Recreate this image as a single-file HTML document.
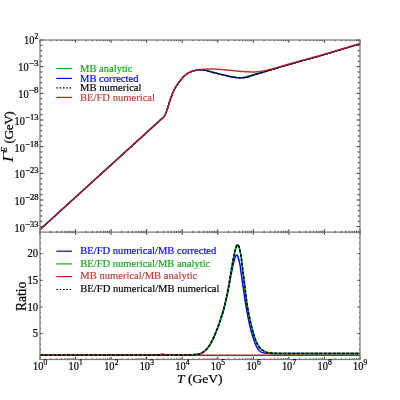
<!DOCTYPE html>
<html><head><meta charset="utf-8"><title>chart</title><style>html,body{margin:0;padding:0;background:#fff;width:400px;height:400px;overflow:hidden;font-family:"Liberation Serif",serif}</style></head><body>
<div style="position:absolute;left:0;top:0;width:400px;height:400px;will-change:transform">
<svg width="400" height="400" viewBox="0 0 400 400" style="position:absolute;left:0;top:0">
<rect width="400" height="400" fill="#fff"/>
<path d="M40.00,40.00 v2.70 M40.00,232.00 v-2.70 M40.00,232.00 v2.70 M40.00,359.50 v-2.70 M50.70,40.00 v1.20 M50.70,232.00 v-1.20 M50.70,232.00 v1.20 M50.70,359.50 v-1.20 M56.96,40.00 v1.20 M56.96,232.00 v-1.20 M56.96,232.00 v1.20 M56.96,359.50 v-1.20 M61.41,40.00 v1.20 M61.41,232.00 v-1.20 M61.41,232.00 v1.20 M61.41,359.50 v-1.20 M64.85,40.00 v1.20 M64.85,232.00 v-1.20 M64.85,232.00 v1.20 M64.85,359.50 v-1.20 M67.67,40.00 v1.20 M67.67,232.00 v-1.20 M67.67,232.00 v1.20 M67.67,359.50 v-1.20 M70.05,40.00 v1.20 M70.05,232.00 v-1.20 M70.05,232.00 v1.20 M70.05,359.50 v-1.20 M72.11,40.00 v1.20 M72.11,232.00 v-1.20 M72.11,232.00 v1.20 M72.11,359.50 v-1.20 M73.93,40.00 v1.20 M73.93,232.00 v-1.20 M73.93,232.00 v1.20 M73.93,359.50 v-1.20 M75.56,40.00 v2.70 M75.56,232.00 v-2.70 M75.56,232.00 v2.70 M75.56,359.50 v-2.70 M86.26,40.00 v1.20 M86.26,232.00 v-1.20 M86.26,232.00 v1.20 M86.26,359.50 v-1.20 M92.52,40.00 v1.20 M92.52,232.00 v-1.20 M92.52,232.00 v1.20 M92.52,359.50 v-1.20 M96.96,40.00 v1.20 M96.96,232.00 v-1.20 M96.96,232.00 v1.20 M96.96,359.50 v-1.20 M100.41,40.00 v1.20 M100.41,232.00 v-1.20 M100.41,232.00 v1.20 M100.41,359.50 v-1.20 M103.22,40.00 v1.20 M103.22,232.00 v-1.20 M103.22,232.00 v1.20 M103.22,359.50 v-1.20 M105.60,40.00 v1.20 M105.60,232.00 v-1.20 M105.60,232.00 v1.20 M105.60,359.50 v-1.20 M107.67,40.00 v1.20 M107.67,232.00 v-1.20 M107.67,232.00 v1.20 M107.67,359.50 v-1.20 M109.48,40.00 v1.20 M109.48,232.00 v-1.20 M109.48,232.00 v1.20 M109.48,359.50 v-1.20 M111.11,40.00 v2.70 M111.11,232.00 v-2.70 M111.11,232.00 v2.70 M111.11,359.50 v-2.70 M121.81,40.00 v1.20 M121.81,232.00 v-1.20 M121.81,232.00 v1.20 M121.81,359.50 v-1.20 M128.08,40.00 v1.20 M128.08,232.00 v-1.20 M128.08,232.00 v1.20 M128.08,359.50 v-1.20 M132.52,40.00 v1.20 M132.52,232.00 v-1.20 M132.52,232.00 v1.20 M132.52,359.50 v-1.20 M135.96,40.00 v1.20 M135.96,232.00 v-1.20 M135.96,232.00 v1.20 M135.96,359.50 v-1.20 M138.78,40.00 v1.20 M138.78,232.00 v-1.20 M138.78,232.00 v1.20 M138.78,359.50 v-1.20 M141.16,40.00 v1.20 M141.16,232.00 v-1.20 M141.16,232.00 v1.20 M141.16,359.50 v-1.20 M143.22,40.00 v1.20 M143.22,232.00 v-1.20 M143.22,232.00 v1.20 M143.22,359.50 v-1.20 M145.04,40.00 v1.20 M145.04,232.00 v-1.20 M145.04,232.00 v1.20 M145.04,359.50 v-1.20 M146.67,40.00 v2.70 M146.67,232.00 v-2.70 M146.67,232.00 v2.70 M146.67,359.50 v-2.70 M157.37,40.00 v1.20 M157.37,232.00 v-1.20 M157.37,232.00 v1.20 M157.37,359.50 v-1.20 M163.63,40.00 v1.20 M163.63,232.00 v-1.20 M163.63,232.00 v1.20 M163.63,359.50 v-1.20 M168.07,40.00 v1.20 M168.07,232.00 v-1.20 M168.07,232.00 v1.20 M168.07,359.50 v-1.20 M171.52,40.00 v1.20 M171.52,232.00 v-1.20 M171.52,232.00 v1.20 M171.52,359.50 v-1.20 M174.33,40.00 v1.20 M174.33,232.00 v-1.20 M174.33,232.00 v1.20 M174.33,359.50 v-1.20 M176.71,40.00 v1.20 M176.71,232.00 v-1.20 M176.71,232.00 v1.20 M176.71,359.50 v-1.20 M178.78,40.00 v1.20 M178.78,232.00 v-1.20 M178.78,232.00 v1.20 M178.78,359.50 v-1.20 M180.60,40.00 v1.20 M180.60,232.00 v-1.20 M180.60,232.00 v1.20 M180.60,359.50 v-1.20 M182.22,40.00 v2.70 M182.22,232.00 v-2.70 M182.22,232.00 v2.70 M182.22,359.50 v-2.70 M192.93,40.00 v1.20 M192.93,232.00 v-1.20 M192.93,232.00 v1.20 M192.93,359.50 v-1.20 M199.19,40.00 v1.20 M199.19,232.00 v-1.20 M199.19,232.00 v1.20 M199.19,359.50 v-1.20 M203.63,40.00 v1.20 M203.63,232.00 v-1.20 M203.63,232.00 v1.20 M203.63,359.50 v-1.20 M207.07,40.00 v1.20 M207.07,232.00 v-1.20 M207.07,232.00 v1.20 M207.07,359.50 v-1.20 M209.89,40.00 v1.20 M209.89,232.00 v-1.20 M209.89,232.00 v1.20 M209.89,359.50 v-1.20 M212.27,40.00 v1.20 M212.27,232.00 v-1.20 M212.27,232.00 v1.20 M212.27,359.50 v-1.20 M214.33,40.00 v1.20 M214.33,232.00 v-1.20 M214.33,232.00 v1.20 M214.33,359.50 v-1.20 M216.15,40.00 v1.20 M216.15,232.00 v-1.20 M216.15,232.00 v1.20 M216.15,359.50 v-1.20 M217.78,40.00 v2.70 M217.78,232.00 v-2.70 M217.78,232.00 v2.70 M217.78,359.50 v-2.70 M228.48,40.00 v1.20 M228.48,232.00 v-1.20 M228.48,232.00 v1.20 M228.48,359.50 v-1.20 M234.74,40.00 v1.20 M234.74,232.00 v-1.20 M234.74,232.00 v1.20 M234.74,359.50 v-1.20 M239.18,40.00 v1.20 M239.18,232.00 v-1.20 M239.18,232.00 v1.20 M239.18,359.50 v-1.20 M242.63,40.00 v1.20 M242.63,232.00 v-1.20 M242.63,232.00 v1.20 M242.63,359.50 v-1.20 M245.45,40.00 v1.20 M245.45,232.00 v-1.20 M245.45,232.00 v1.20 M245.45,359.50 v-1.20 M247.83,40.00 v1.20 M247.83,232.00 v-1.20 M247.83,232.00 v1.20 M247.83,359.50 v-1.20 M249.89,40.00 v1.20 M249.89,232.00 v-1.20 M249.89,232.00 v1.20 M249.89,359.50 v-1.20 M251.71,40.00 v1.20 M251.71,232.00 v-1.20 M251.71,232.00 v1.20 M251.71,359.50 v-1.20 M253.33,40.00 v2.70 M253.33,232.00 v-2.70 M253.33,232.00 v2.70 M253.33,359.50 v-2.70 M264.04,40.00 v1.20 M264.04,232.00 v-1.20 M264.04,232.00 v1.20 M264.04,359.50 v-1.20 M270.30,40.00 v1.20 M270.30,232.00 v-1.20 M270.30,232.00 v1.20 M270.30,359.50 v-1.20 M274.74,40.00 v1.20 M274.74,232.00 v-1.20 M274.74,232.00 v1.20 M274.74,359.50 v-1.20 M278.19,40.00 v1.20 M278.19,232.00 v-1.20 M278.19,232.00 v1.20 M278.19,359.50 v-1.20 M281.00,40.00 v1.20 M281.00,232.00 v-1.20 M281.00,232.00 v1.20 M281.00,359.50 v-1.20 M283.38,40.00 v1.20 M283.38,232.00 v-1.20 M283.38,232.00 v1.20 M283.38,359.50 v-1.20 M285.44,40.00 v1.20 M285.44,232.00 v-1.20 M285.44,232.00 v1.20 M285.44,359.50 v-1.20 M287.26,40.00 v1.20 M287.26,232.00 v-1.20 M287.26,232.00 v1.20 M287.26,359.50 v-1.20 M288.89,40.00 v2.70 M288.89,232.00 v-2.70 M288.89,232.00 v2.70 M288.89,359.50 v-2.70 M299.59,40.00 v1.20 M299.59,232.00 v-1.20 M299.59,232.00 v1.20 M299.59,359.50 v-1.20 M305.85,40.00 v1.20 M305.85,232.00 v-1.20 M305.85,232.00 v1.20 M305.85,359.50 v-1.20 M310.30,40.00 v1.20 M310.30,232.00 v-1.20 M310.30,232.00 v1.20 M310.30,359.50 v-1.20 M313.74,40.00 v1.20 M313.74,232.00 v-1.20 M313.74,232.00 v1.20 M313.74,359.50 v-1.20 M316.56,40.00 v1.20 M316.56,232.00 v-1.20 M316.56,232.00 v1.20 M316.56,359.50 v-1.20 M318.94,40.00 v1.20 M318.94,232.00 v-1.20 M318.94,232.00 v1.20 M318.94,359.50 v-1.20 M321.00,40.00 v1.20 M321.00,232.00 v-1.20 M321.00,232.00 v1.20 M321.00,359.50 v-1.20 M322.82,40.00 v1.20 M322.82,232.00 v-1.20 M322.82,232.00 v1.20 M322.82,359.50 v-1.20 M324.44,40.00 v2.70 M324.44,232.00 v-2.70 M324.44,232.00 v2.70 M324.44,359.50 v-2.70 M335.15,40.00 v1.20 M335.15,232.00 v-1.20 M335.15,232.00 v1.20 M335.15,359.50 v-1.20 M341.41,40.00 v1.20 M341.41,232.00 v-1.20 M341.41,232.00 v1.20 M341.41,359.50 v-1.20 M345.85,40.00 v1.20 M345.85,232.00 v-1.20 M345.85,232.00 v1.20 M345.85,359.50 v-1.20 M349.30,40.00 v1.20 M349.30,232.00 v-1.20 M349.30,232.00 v1.20 M349.30,359.50 v-1.20 M352.11,40.00 v1.20 M352.11,232.00 v-1.20 M352.11,232.00 v1.20 M352.11,359.50 v-1.20 M354.49,40.00 v1.20 M354.49,232.00 v-1.20 M354.49,232.00 v1.20 M354.49,359.50 v-1.20 M356.55,40.00 v1.20 M356.55,232.00 v-1.20 M356.55,232.00 v1.20 M356.55,359.50 v-1.20 M358.37,40.00 v1.20 M358.37,232.00 v-1.20 M358.37,232.00 v1.20 M358.37,359.50 v-1.20 M360.00,40.00 v2.70 M360.00,232.00 v-2.70 M360.00,232.00 v2.70 M360.00,359.50 v-2.70 M40.00,40.00 h3.40 M360.00,40.00 h-3.40 M40.00,45.33 h2.40 M360.00,45.33 h-2.40 M40.00,50.67 h2.40 M360.00,50.67 h-2.40 M40.00,56.00 h2.40 M360.00,56.00 h-2.40 M40.00,61.33 h2.40 M360.00,61.33 h-2.40 M40.00,66.67 h3.40 M360.00,66.67 h-3.40 M40.00,72.00 h2.40 M360.00,72.00 h-2.40 M40.00,77.33 h2.40 M360.00,77.33 h-2.40 M40.00,82.67 h2.40 M360.00,82.67 h-2.40 M40.00,88.00 h2.40 M360.00,88.00 h-2.40 M40.00,93.33 h3.40 M360.00,93.33 h-3.40 M40.00,98.67 h2.40 M360.00,98.67 h-2.40 M40.00,104.00 h2.40 M360.00,104.00 h-2.40 M40.00,109.33 h2.40 M360.00,109.33 h-2.40 M40.00,114.67 h2.40 M360.00,114.67 h-2.40 M40.00,120.00 h3.40 M360.00,120.00 h-3.40 M40.00,125.33 h2.40 M360.00,125.33 h-2.40 M40.00,130.67 h2.40 M360.00,130.67 h-2.40 M40.00,136.00 h2.40 M360.00,136.00 h-2.40 M40.00,141.33 h2.40 M360.00,141.33 h-2.40 M40.00,146.67 h3.40 M360.00,146.67 h-3.40 M40.00,152.00 h2.40 M360.00,152.00 h-2.40 M40.00,157.33 h2.40 M360.00,157.33 h-2.40 M40.00,162.67 h2.40 M360.00,162.67 h-2.40 M40.00,168.00 h2.40 M360.00,168.00 h-2.40 M40.00,173.33 h3.40 M360.00,173.33 h-3.40 M40.00,178.67 h2.40 M360.00,178.67 h-2.40 M40.00,184.00 h2.40 M360.00,184.00 h-2.40 M40.00,189.33 h2.40 M360.00,189.33 h-2.40 M40.00,194.67 h2.40 M360.00,194.67 h-2.40 M40.00,200.00 h3.40 M360.00,200.00 h-3.40 M40.00,205.33 h2.40 M360.00,205.33 h-2.40 M40.00,210.67 h2.40 M360.00,210.67 h-2.40 M40.00,216.00 h2.40 M360.00,216.00 h-2.40 M40.00,221.33 h2.40 M360.00,221.33 h-2.40 M40.00,226.67 h3.40 M360.00,226.67 h-3.40 M40.00,354.90 h1.10 M360.00,354.90 h-1.10 M40.00,349.57 h1.10 M360.00,349.57 h-1.10 M40.00,344.24 h1.10 M360.00,344.24 h-1.10 M40.00,338.91 h1.10 M360.00,338.91 h-1.10 M40.00,333.58 h2.40 M360.00,333.58 h-2.40 M40.00,328.25 h1.10 M360.00,328.25 h-1.10 M40.00,322.92 h1.10 M360.00,322.92 h-1.10 M40.00,317.59 h1.10 M360.00,317.59 h-1.10 M40.00,312.26 h1.10 M360.00,312.26 h-1.10 M40.00,306.93 h2.40 M360.00,306.93 h-2.40 M40.00,301.60 h1.10 M360.00,301.60 h-1.10 M40.00,296.27 h1.10 M360.00,296.27 h-1.10 M40.00,290.94 h1.10 M360.00,290.94 h-1.10 M40.00,285.61 h1.10 M360.00,285.61 h-1.10 M40.00,280.28 h2.40 M360.00,280.28 h-2.40 M40.00,274.95 h1.10 M360.00,274.95 h-1.10 M40.00,269.62 h1.10 M360.00,269.62 h-1.10 M40.00,264.29 h1.10 M360.00,264.29 h-1.10 M40.00,258.96 h1.10 M360.00,258.96 h-1.10 M40.00,253.63 h2.40 M360.00,253.63 h-2.40 M40.00,248.30 h1.10 M360.00,248.30 h-1.10 M40.00,242.97 h1.10 M360.00,242.97 h-1.10 M40.00,237.64 h1.10 M360.00,237.64 h-1.10" stroke="#111" stroke-width="0.9" fill="none"/>
<g fill="none" stroke-width="1.3" stroke-linejoin="round">
<path d="M40.00,229.50 L162.50,118.10 L162.62,117.99 L162.77,117.85 L162.96,117.68 L163.17,117.49 L163.39,117.29 L163.60,117.07 L163.81,116.84 L164.00,116.60 L164.17,116.36 L164.33,116.13 L164.48,115.88 L164.64,115.62 L164.79,115.34 L164.95,115.03 L165.12,114.69 L165.30,114.30 L165.48,113.89 L165.67,113.49 L165.85,113.06 L166.04,112.60 L166.25,112.08 L166.47,111.49 L166.72,110.80 L167.00,110.00 L167.31,109.06 L167.65,107.98 L168.01,106.81 L168.39,105.56 L168.78,104.27 L169.18,102.98 L169.59,101.71 L170.00,100.50 L170.41,99.32 L170.84,98.11 L171.28,96.90 L171.72,95.70 L172.17,94.52 L172.61,93.39 L173.06,92.31 L173.50,91.30 L173.94,90.36 L174.38,89.48 L174.81,88.65 L175.25,87.87 L175.69,87.12 L176.12,86.39 L176.56,85.69 L177.00,85.00 L177.44,84.33 L177.88,83.70 L178.31,83.09 L178.75,82.51 L179.19,81.94 L179.62,81.39 L180.06,80.84 L180.50,80.30 L180.94,79.76 L181.38,79.22 L181.81,78.70 L182.25,78.18 L182.69,77.68 L183.12,77.20 L183.56,76.74 L184.00,76.30 L184.44,75.89 L184.88,75.49 L185.31,75.12 L185.75,74.76 L186.19,74.42 L186.62,74.10 L187.06,73.79 L187.50,73.50 L187.94,73.22 L188.38,72.96 L188.81,72.72 L189.25,72.49 L189.69,72.27 L190.12,72.07 L190.56,71.88 L191.00,71.70 L191.44,71.54 L191.87,71.39 L192.30,71.26 L192.73,71.14 L193.17,71.03 L193.60,70.92 L194.05,70.81 L194.50,70.70 L194.94,70.58 L195.36,70.46 L195.78,70.33 L196.20,70.21 L196.65,70.10 L197.14,70.01 L197.68,69.94 L198.30,69.90 L199.00,69.88 L199.79,69.89 L200.63,69.91 L201.51,69.95 L202.41,70.01 L203.31,70.09 L204.18,70.18 L205.00,70.30 L205.78,70.44 L206.54,70.62 L207.28,70.81 L208.01,71.02 L208.74,71.25 L209.48,71.47 L210.23,71.69 L211.00,71.90 L211.79,72.10 L212.59,72.30 L213.40,72.50 L214.22,72.70 L215.04,72.90 L215.86,73.10 L216.68,73.30 L217.50,73.50 L218.32,73.70 L219.14,73.90 L219.96,74.11 L220.78,74.31 L221.60,74.51 L222.41,74.71 L223.21,74.91 L224.00,75.10 L224.78,75.29 L225.56,75.48 L226.33,75.67 L227.09,75.85 L227.85,76.03 L228.58,76.20 L229.30,76.36 L230.00,76.50 L230.67,76.63 L231.32,76.75 L231.95,76.87 L232.56,76.97 L233.17,77.06 L233.77,77.15 L234.38,77.23 L235.00,77.30 L235.63,77.37 L236.27,77.43 L236.92,77.48 L237.56,77.53 L238.20,77.57 L238.82,77.59 L239.42,77.60 L240.00,77.60 L240.55,77.58 L241.07,77.54 L241.57,77.49 L242.06,77.43 L242.54,77.36 L243.02,77.28 L243.51,77.19 L244.00,77.10 L244.50,77.00 L245.00,76.89 L245.50,76.77 L246.00,76.64 L246.50,76.51 L247.00,76.38 L247.50,76.24 L248.00,76.10 L248.50,75.96 L249.00,75.81 L249.50,75.66 L250.00,75.51 L250.50,75.35 L251.00,75.20 L251.50,75.05 L252.00,74.90 L252.47,74.76 L252.91,74.64 L253.32,74.52 L253.75,74.40 L254.21,74.27 L254.72,74.14 L255.31,73.98 L256.00,73.80 L256.81,73.60 L257.71,73.37 L258.69,73.13 L259.72,72.88 L260.79,72.62 L261.87,72.35 L262.95,72.08 L264.00,71.80 L264.98,71.54 L265.88,71.29 L266.76,71.05 L267.66,70.80 L268.63,70.52 L269.73,70.21 L271.00,69.84 L272.50,69.40 L274.17,68.91 L275.95,68.37 L277.85,67.79 L279.91,67.17 L282.13,66.50 L284.54,65.78 L287.15,65.02 L290.00,64.20 L293.36,63.25 L297.32,62.15 L301.65,60.95 L306.09,59.73 L310.40,58.54 L314.32,57.46 L317.60,56.56 L320.00,55.90 L360.00,43.90" stroke="#14a81e"/>
<path d="M40.00,229.50 L162.50,118.10 L162.62,117.99 L162.77,117.85 L162.96,117.68 L163.17,117.49 L163.39,117.29 L163.60,117.07 L163.81,116.84 L164.00,116.60 L164.17,116.36 L164.33,116.13 L164.48,115.88 L164.64,115.62 L164.79,115.34 L164.95,115.03 L165.12,114.69 L165.30,114.30 L165.48,113.89 L165.67,113.49 L165.85,113.06 L166.04,112.60 L166.25,112.08 L166.47,111.49 L166.72,110.80 L167.00,110.00 L167.31,109.06 L167.65,107.98 L168.01,106.81 L168.39,105.56 L168.78,104.27 L169.18,102.98 L169.59,101.71 L170.00,100.50 L170.41,99.32 L170.84,98.11 L171.28,96.90 L171.72,95.70 L172.17,94.52 L172.61,93.39 L173.06,92.31 L173.50,91.30 L173.94,90.36 L174.38,89.48 L174.81,88.65 L175.25,87.87 L175.69,87.12 L176.12,86.39 L176.56,85.69 L177.00,85.00 L177.44,84.33 L177.88,83.70 L178.31,83.09 L178.75,82.51 L179.19,81.94 L179.62,81.39 L180.06,80.84 L180.50,80.30 L180.94,79.76 L181.38,79.22 L181.81,78.70 L182.25,78.18 L182.69,77.68 L183.12,77.20 L183.56,76.74 L184.00,76.30 L184.44,75.89 L184.88,75.49 L185.31,75.12 L185.75,74.76 L186.19,74.42 L186.62,74.10 L187.06,73.79 L187.50,73.50 L187.94,73.22 L188.38,72.96 L188.81,72.72 L189.25,72.49 L189.69,72.27 L190.12,72.07 L190.56,71.88 L191.00,71.70 L191.44,71.54 L191.87,71.39 L192.30,71.26 L192.73,71.14 L193.17,71.03 L193.60,70.92 L194.05,70.81 L194.50,70.70 L194.94,70.58 L195.36,70.46 L195.78,70.33 L196.20,70.21 L196.65,70.10 L197.14,70.01 L197.68,69.94 L198.30,69.90 L199.00,69.88 L199.79,69.89 L200.63,69.91 L201.51,69.95 L202.41,70.01 L203.31,70.09 L204.18,70.18 L205.00,70.30 L205.78,70.44 L206.54,70.62 L207.28,70.81 L208.01,71.02 L208.74,71.25 L209.48,71.47 L210.23,71.69 L211.00,71.90 L211.79,72.10 L212.59,72.30 L213.40,72.50 L214.22,72.70 L215.04,72.90 L215.86,73.10 L216.68,73.30 L217.50,73.50 L218.32,73.70 L219.14,73.90 L219.96,74.11 L220.78,74.31 L221.60,74.51 L222.41,74.71 L223.21,74.91 L224.00,75.10 L224.78,75.29 L225.56,75.48 L226.33,75.66 L227.09,75.84 L227.85,76.02 L228.58,76.19 L229.30,76.35 L230.00,76.50 L230.67,76.64 L231.32,76.77 L231.95,76.89 L232.56,77.01 L233.17,77.11 L233.77,77.21 L234.38,77.31 L235.00,77.40 L235.63,77.49 L236.27,77.57 L236.92,77.65 L237.56,77.72 L238.20,77.78 L238.82,77.83 L239.42,77.87 L240.00,77.90 L240.55,77.91 L241.07,77.91 L241.57,77.90 L242.06,77.88 L242.54,77.85 L243.02,77.81 L243.51,77.76 L244.00,77.70 L244.50,77.63 L245.00,77.55 L245.50,77.47 L246.00,77.37 L246.50,77.26 L247.00,77.15 L247.50,77.03 L248.00,76.90 L248.50,76.76 L249.00,76.61 L249.50,76.45 L250.00,76.28 L250.50,76.11 L251.00,75.94 L251.50,75.77 L252.00,75.60 L252.47,75.44 L252.91,75.30 L253.32,75.16 L253.75,75.01 L254.21,74.86 L254.72,74.70 L255.31,74.51 L256.00,74.30 L256.81,74.06 L257.71,73.80 L258.69,73.52 L259.72,73.23 L260.79,72.93 L261.87,72.62 L262.95,72.31 L264.00,72.00 L264.98,71.71 L265.88,71.43 L266.76,71.16 L267.66,70.88 L268.63,70.58 L269.73,70.24 L271.00,69.85 L272.50,69.40 L274.17,68.90 L275.95,68.36 L277.85,67.78 L279.91,67.16 L282.13,66.49 L284.54,65.78 L287.15,65.02 L290.00,64.20 L293.36,63.25 L297.32,62.15 L301.65,60.95 L306.09,59.73 L310.40,58.54 L314.32,57.46 L317.60,56.56 L320.00,55.90 L360.00,43.90" stroke="#0000ff"/>
<path d="M40.00,229.50 L162.50,118.10 L162.62,117.99 L162.77,117.85 L162.96,117.68 L163.17,117.49 L163.39,117.29 L163.60,117.07 L163.81,116.84 L164.00,116.60 L164.17,116.36 L164.33,116.13 L164.48,115.88 L164.64,115.62 L164.79,115.34 L164.95,115.03 L165.12,114.69 L165.30,114.30 L165.48,113.89 L165.67,113.49 L165.85,113.06 L166.04,112.60 L166.25,112.08 L166.47,111.49 L166.72,110.80 L167.00,110.00 L167.31,109.06 L167.65,107.98 L168.01,106.81 L168.39,105.56 L168.78,104.27 L169.18,102.98 L169.59,101.71 L170.00,100.50 L170.41,99.32 L170.84,98.11 L171.28,96.90 L171.72,95.70 L172.17,94.52 L172.61,93.39 L173.06,92.31 L173.50,91.30 L173.94,90.36 L174.38,89.48 L174.81,88.65 L175.25,87.87 L175.69,87.12 L176.12,86.39 L176.56,85.69 L177.00,85.00 L177.44,84.33 L177.88,83.70 L178.31,83.09 L178.75,82.51 L179.19,81.94 L179.62,81.39 L180.06,80.84 L180.50,80.30 L180.94,79.76 L181.38,79.22 L181.81,78.70 L182.25,78.18 L182.69,77.68 L183.12,77.20 L183.56,76.74 L184.00,76.30 L184.44,75.89 L184.88,75.49 L185.31,75.12 L185.75,74.76 L186.19,74.42 L186.62,74.10 L187.06,73.79 L187.50,73.50 L187.94,73.22 L188.38,72.96 L188.81,72.72 L189.25,72.49 L189.69,72.27 L190.12,72.07 L190.56,71.88 L191.00,71.70 L191.44,71.54 L191.87,71.39 L192.30,71.26 L192.73,71.14 L193.17,71.03 L193.60,70.92 L194.05,70.81 L194.50,70.70 L194.94,70.58 L195.36,70.46 L195.78,70.33 L196.20,70.21 L196.65,70.10 L197.14,70.01 L197.68,69.94 L198.30,69.90 L199.00,69.88 L199.79,69.89 L200.63,69.91 L201.51,69.95 L202.41,70.01 L203.31,70.09 L204.18,70.18 L205.00,70.30 L205.78,70.44 L206.54,70.62 L207.28,70.81 L208.01,71.02 L208.74,71.25 L209.48,71.47 L210.23,71.69 L211.00,71.90 L211.79,72.10 L212.59,72.30 L213.40,72.50 L214.22,72.70 L215.04,72.90 L215.86,73.10 L216.68,73.30 L217.50,73.50 L218.32,73.70 L219.14,73.90 L219.96,74.11 L220.78,74.31 L221.60,74.51 L222.41,74.71 L223.21,74.91 L224.00,75.10 L224.78,75.29 L225.56,75.48 L226.33,75.66 L227.09,75.84 L227.85,76.02 L228.58,76.19 L229.30,76.35 L230.00,76.50 L230.67,76.64 L231.32,76.77 L231.95,76.89 L232.56,77.01 L233.17,77.11 L233.77,77.21 L234.38,77.31 L235.00,77.40 L235.63,77.49 L236.27,77.57 L236.92,77.65 L237.56,77.72 L238.20,77.78 L238.82,77.83 L239.42,77.87 L240.00,77.90 L240.55,77.91 L241.07,77.91 L241.57,77.90 L242.06,77.88 L242.54,77.85 L243.02,77.81 L243.51,77.76 L244.00,77.70 L244.50,77.63 L245.00,77.55 L245.50,77.47 L246.00,77.37 L246.50,77.26 L247.00,77.15 L247.50,77.03 L248.00,76.90 L248.50,76.76 L249.00,76.61 L249.50,76.45 L250.00,76.28 L250.50,76.11 L251.00,75.94 L251.50,75.77 L252.00,75.60 L252.47,75.44 L252.91,75.30 L253.32,75.16 L253.75,75.01 L254.21,74.86 L254.72,74.70 L255.31,74.51 L256.00,74.30 L256.81,74.06 L257.71,73.80 L258.69,73.52 L259.72,73.23 L260.79,72.93 L261.87,72.62 L262.95,72.31 L264.00,72.00 L264.98,71.71 L265.88,71.43 L266.76,71.16 L267.66,70.88 L268.63,70.58 L269.73,70.24 L271.00,69.85 L272.50,69.40 L274.17,68.90 L275.95,68.36 L277.85,67.78 L279.91,67.16 L282.13,66.49 L284.54,65.78 L287.15,65.02 L290.00,64.20 L293.36,63.25 L297.32,62.15 L301.65,60.95 L306.09,59.73 L310.40,58.54 L314.32,57.46 L317.60,56.56 L320.00,55.90 L360.00,43.90" stroke="#000" stroke-dasharray="3 1.5"/>
<path d="M40.00,229.50 L162.50,118.10 L162.62,117.99 L162.77,117.85 L162.96,117.68 L163.17,117.49 L163.39,117.29 L163.60,117.07 L163.81,116.84 L164.00,116.60 L164.17,116.36 L164.33,116.13 L164.48,115.88 L164.64,115.62 L164.79,115.34 L164.95,115.03 L165.12,114.69 L165.30,114.30 L165.48,113.89 L165.67,113.49 L165.85,113.06 L166.04,112.60 L166.25,112.08 L166.47,111.49 L166.72,110.80 L167.00,110.00 L167.31,109.06 L167.65,107.98 L168.01,106.81 L168.39,105.56 L168.78,104.27 L169.18,102.98 L169.59,101.71 L170.00,100.50 L170.41,99.32 L170.84,98.11 L171.28,96.90 L171.72,95.70 L172.17,94.52 L172.61,93.39 L173.06,92.31 L173.50,91.30 L173.94,90.36 L174.38,89.48 L174.81,88.65 L175.25,87.87 L175.69,87.12 L176.12,86.39 L176.56,85.69 L177.00,85.00 L177.44,84.33 L177.88,83.70 L178.31,83.09 L178.75,82.51 L179.19,81.94 L179.62,81.39 L180.06,80.84 L180.50,80.30 L180.94,79.76 L181.38,79.22 L181.81,78.70 L182.25,78.18 L182.69,77.68 L183.12,77.20 L183.56,76.74 L184.00,76.30 L184.44,75.89 L184.88,75.49 L185.31,75.12 L185.75,74.76 L186.19,74.42 L186.62,74.10 L187.06,73.79 L187.50,73.50 L187.94,73.22 L188.38,72.96 L188.81,72.72 L189.25,72.49 L189.69,72.27 L190.12,72.07 L190.56,71.88 L191.00,71.70 L191.44,71.54 L191.87,71.39 L192.30,71.26 L192.73,71.14 L193.17,71.03 L193.60,70.92 L194.05,70.81 L194.50,70.70 L194.94,70.59 L195.36,70.48 L195.78,70.38 L196.20,70.28 L196.65,70.18 L197.14,70.09 L197.68,69.99 L198.30,69.90 L199.00,69.80 L199.76,69.71 L200.59,69.61 L201.45,69.51 L202.34,69.42 L203.24,69.34 L204.13,69.26 L205.00,69.20 L205.85,69.15 L206.71,69.10 L207.56,69.06 L208.42,69.03 L209.29,69.01 L210.17,69.00 L211.08,68.99 L212.00,69.00 L212.94,69.02 L213.88,69.05 L214.84,69.08 L215.81,69.13 L216.81,69.19 L217.84,69.25 L218.90,69.32 L220.00,69.40 L221.15,69.49 L222.36,69.59 L223.60,69.70 L224.88,69.81 L226.16,69.93 L227.45,70.06 L228.74,70.18 L230.00,70.30 L231.25,70.42 L232.50,70.55 L233.75,70.69 L235.00,70.82 L236.25,70.95 L237.50,71.08 L238.75,71.19 L240.00,71.30 L241.28,71.40 L242.59,71.49 L243.93,71.58 L245.25,71.66 L246.54,71.74 L247.78,71.80 L248.94,71.86 L250.00,71.90 L250.94,71.93 L251.78,71.96 L252.54,71.97 L253.25,71.98 L253.93,71.98 L254.59,71.96 L255.28,71.94 L256.00,71.90 L256.75,71.85 L257.50,71.79 L258.25,71.72 L259.00,71.63 L259.75,71.54 L260.50,71.43 L261.25,71.32 L262.00,71.20 L262.74,71.07 L263.48,70.93 L264.21,70.78 L264.94,70.62 L265.68,70.45 L266.43,70.27 L267.20,70.09 L268.00,69.90 L268.77,69.72 L269.49,69.54 L270.20,69.37 L270.94,69.19 L271.75,68.98 L272.66,68.74 L273.74,68.45 L275.00,68.10 L276.39,67.71 L277.84,67.29 L279.38,66.85 L281.06,66.36 L282.92,65.82 L285.01,65.21 L287.35,64.55 L290.00,63.80 L293.24,62.90 L297.15,61.81 L301.47,60.62 L305.94,59.38 L310.29,58.18 L314.26,57.09 L317.58,56.17 L320.00,55.50 L360.00,43.50" stroke="#b22222" stroke-width="1.5" stroke-opacity="0.9"/>
<path d="M40.00,354.95 L49.00,354.95 L61.52,354.95 L76.49,354.95 L92.81,354.95 L109.41,354.95 L125.20,354.95 L139.09,354.95 L150.00,354.95 L158.13,354.95 L164.61,354.96 L169.72,354.97 L173.75,354.97 L177.00,354.98 L179.77,354.97 L182.33,354.97 L185.00,354.95 L187.48,354.93 L189.38,354.90 L190.80,354.87 L191.88,354.83 L192.71,354.79 L193.44,354.73 L194.16,354.67 L195.00,354.60 L195.87,354.52 L196.62,354.44 L197.29,354.36 L197.88,354.27 L198.42,354.16 L198.94,354.03 L199.46,353.88 L200.00,353.70 L200.55,353.50 L201.07,353.28 L201.57,353.05 L202.06,352.79 L202.54,352.51 L203.02,352.21 L203.51,351.87 L204.00,351.50 L204.50,351.10 L205.00,350.69 L205.50,350.24 L206.00,349.77 L206.50,349.26 L207.00,348.72 L207.50,348.13 L208.00,347.50 L208.50,346.82 L209.00,346.10 L209.50,345.35 L210.00,344.55 L210.50,343.72 L211.00,342.85 L211.50,341.94 L212.00,341.00 L212.50,340.02 L213.00,339.01 L213.50,337.95 L214.00,336.86 L214.50,335.74 L215.00,334.59 L215.50,333.41 L216.00,332.20 L216.50,330.97 L217.00,329.71 L217.50,328.43 L218.00,327.11 L218.50,325.76 L219.00,324.38 L219.50,322.96 L220.00,321.50 L220.50,320.02 L221.00,318.52 L221.50,316.99 L222.00,315.43 L222.50,313.81 L223.00,312.12 L223.50,310.36 L224.00,308.50 L224.51,306.52 L225.02,304.41 L225.54,302.20 L226.06,299.94 L226.57,297.65 L227.07,295.38 L227.55,293.15 L228.00,291.00 L228.42,288.91 L228.82,286.85 L229.20,284.80 L229.56,282.78 L229.92,280.79 L230.27,278.82 L230.63,276.89 L231.00,275.00 L231.39,273.09 L231.79,271.14 L232.19,269.19 L232.59,267.28 L232.98,265.47 L233.36,263.79 L233.70,262.28 L234.00,261.00 L234.26,259.96 L234.49,259.14 L234.68,258.48 L234.86,257.97 L235.02,257.55 L235.17,257.19 L235.33,256.85 L235.50,256.50 L235.67,256.15 L235.84,255.83 L236.01,255.56 L236.17,255.34 L236.33,255.17 L236.49,255.06 L236.64,255.00 L236.80,255.00 L236.95,255.04 L237.09,255.11 L237.22,255.23 L237.36,255.41 L237.50,255.66 L237.65,256.00 L237.81,256.44 L238.00,257.00 L238.21,257.67 L238.44,258.44 L238.69,259.30 L238.95,260.25 L239.21,261.30 L239.48,262.44 L239.74,263.67 L240.00,265.00 L240.25,266.46 L240.50,268.08 L240.75,269.81 L241.00,271.62 L241.25,273.49 L241.50,275.36 L241.75,277.21 L242.00,279.00 L242.25,280.76 L242.50,282.52 L242.75,284.29 L243.00,286.06 L243.25,287.82 L243.50,289.57 L243.75,291.30 L244.00,293.00 L244.24,294.65 L244.48,296.25 L244.71,297.82 L244.94,299.38 L245.18,300.95 L245.43,302.56 L245.70,304.24 L246.00,306.00 L246.33,307.88 L246.68,309.88 L247.05,311.96 L247.44,314.06 L247.83,316.16 L248.23,318.21 L248.62,320.17 L249.00,322.00 L249.38,323.71 L249.75,325.35 L250.12,326.92 L250.50,328.44 L250.88,329.90 L251.25,331.30 L251.62,332.67 L252.00,334.00 L252.38,335.29 L252.75,336.53 L253.12,337.73 L253.50,338.88 L253.88,339.98 L254.25,341.03 L254.62,342.04 L255.00,343.00 L255.37,343.91 L255.73,344.77 L256.08,345.58 L256.44,346.35 L256.80,347.07 L257.18,347.75 L257.58,348.39 L258.00,349.00 L258.44,349.57 L258.88,350.09 L259.34,350.58 L259.81,351.02 L260.31,351.42 L260.84,351.79 L261.40,352.11 L262.00,352.40 L262.64,352.64 L263.31,352.82 L264.02,352.95 L264.75,353.05 L265.52,353.12 L266.31,353.18 L267.14,353.24 L268.00,353.30 L268.79,353.36 L269.48,353.40 L270.15,353.44 L270.88,353.46 L271.74,353.47 L272.83,353.48 L274.22,353.49 L276.00,353.50 L277.99,353.51 L280.03,353.51 L282.25,353.51 L284.75,353.51 L287.66,353.51 L291.09,353.50 L295.17,353.50 L300.00,353.50 L306.19,353.50 L313.88,353.50 L322.50,353.50 L331.50,353.50 L340.31,353.50 L348.38,353.50 L355.12,353.50 L360.00,353.50" stroke="#0000ff" stroke-width="1.5"/>
<path d="M40.00,354.95 L49.00,354.95 L61.52,354.95 L76.49,354.95 L92.81,354.95 L109.41,354.95 L125.20,354.95 L139.09,354.95 L150.00,354.95 L158.13,354.95 L164.61,354.96 L169.72,354.97 L173.75,354.97 L177.00,354.98 L179.77,354.97 L182.33,354.97 L185.00,354.95 L187.48,354.93 L189.38,354.90 L190.80,354.87 L191.88,354.83 L192.71,354.79 L193.44,354.73 L194.16,354.67 L195.00,354.60 L195.87,354.52 L196.62,354.44 L197.29,354.36 L197.88,354.27 L198.42,354.16 L198.94,354.03 L199.46,353.88 L200.00,353.70 L200.55,353.50 L201.07,353.28 L201.57,353.05 L202.06,352.79 L202.54,352.51 L203.02,352.21 L203.51,351.87 L204.00,351.50 L204.50,351.10 L205.00,350.69 L205.50,350.24 L206.00,349.77 L206.50,349.26 L207.00,348.72 L207.50,348.13 L208.00,347.50 L208.50,346.82 L209.00,346.11 L209.50,345.36 L210.00,344.56 L210.50,343.73 L211.00,342.86 L211.50,341.95 L212.00,341.00 L212.50,340.01 L213.00,338.97 L213.50,337.90 L214.00,336.78 L214.50,335.63 L215.00,334.45 L215.50,333.24 L216.00,332.00 L216.50,330.73 L217.00,329.44 L217.50,328.11 L218.00,326.75 L218.50,325.36 L219.00,323.94 L219.50,322.48 L220.00,321.00 L220.50,319.50 L221.00,318.01 L221.50,316.49 L222.00,314.94 L222.50,313.33 L223.00,311.65 L223.50,309.88 L224.00,308.00 L224.51,305.99 L225.02,303.85 L225.54,301.62 L226.06,299.31 L226.57,296.97 L227.07,294.62 L227.55,292.28 L228.00,290.00 L228.42,287.74 L228.82,285.46 L229.20,283.18 L229.56,280.91 L229.92,278.64 L230.27,276.39 L230.63,274.18 L231.00,272.00 L231.38,269.81 L231.77,267.57 L232.17,265.33 L232.56,263.12 L232.95,261.00 L233.32,258.99 L233.67,257.15 L234.00,255.50 L234.30,254.06 L234.58,252.78 L234.85,251.64 L235.10,250.64 L235.34,249.74 L235.57,248.93 L235.79,248.19 L236.00,247.50 L236.20,246.88 L236.39,246.34 L236.56,245.88 L236.73,245.51 L236.89,245.22 L237.05,245.01 L237.22,244.87 L237.40,244.80 L237.59,244.79 L237.78,244.85 L237.97,244.97 L238.16,245.17 L238.36,245.46 L238.57,245.86 L238.78,246.37 L239.00,247.00 L239.23,247.75 L239.47,248.61 L239.72,249.57 L239.97,250.64 L240.23,251.81 L240.49,253.10 L240.75,254.49 L241.00,256.00 L241.25,257.67 L241.50,259.51 L241.75,261.49 L242.00,263.56 L242.25,265.69 L242.50,267.84 L242.75,269.95 L243.00,272.00 L243.25,274.00 L243.50,276.00 L243.75,278.00 L244.00,280.00 L244.25,282.00 L244.50,284.00 L244.75,286.00 L245.00,288.00 L245.24,290.00 L245.48,292.00 L245.71,294.00 L245.94,296.00 L246.18,298.00 L246.43,300.00 L246.70,302.00 L247.00,304.00 L247.33,306.03 L247.68,308.09 L248.05,310.18 L248.44,312.25 L248.83,314.29 L249.23,316.28 L249.62,318.19 L250.00,320.00 L250.38,321.71 L250.75,323.35 L251.12,324.92 L251.50,326.44 L251.88,327.90 L252.25,329.30 L252.62,330.67 L253.00,332.00 L253.37,333.28 L253.73,334.51 L254.08,335.68 L254.44,336.81 L254.80,337.90 L255.18,338.96 L255.58,339.99 L256.00,341.00 L256.44,341.99 L256.88,342.96 L257.34,343.90 L257.81,344.81 L258.31,345.68 L258.84,346.51 L259.40,347.28 L260.00,348.00 L260.65,348.66 L261.36,349.28 L262.10,349.84 L262.88,350.36 L263.66,350.84 L264.45,351.27 L265.24,351.65 L266.00,352.00 L266.74,352.29 L267.45,352.52 L268.16,352.69 L268.88,352.83 L269.60,352.94 L270.36,353.03 L271.15,353.11 L272.00,353.20 L272.82,353.28 L273.58,353.35 L274.33,353.39 L275.12,353.42 L276.03,353.45 L277.11,353.47 L278.41,353.48 L280.00,353.50 L281.65,353.51 L283.22,353.52 L284.86,353.52 L286.75,353.52 L289.04,353.51 L291.91,353.51 L295.50,353.50 L300.00,353.50 L306.00,353.50 L313.59,353.50 L322.21,353.50 L331.25,353.50 L340.14,353.50 L348.28,353.50 L355.10,353.50 L360.00,353.50" stroke="#14a81e" stroke-width="1.7"/>
<path d="M40.00,355.20 L49.63,355.20 L63.27,355.21 L79.58,355.21 L97.25,355.22 L114.95,355.22 L131.36,355.22 L145.15,355.21 L155.00,355.20 L160.81,355.18 L163.82,355.16 L164.65,355.13 L163.97,355.09 L162.41,355.05 L160.64,355.01 L159.28,354.96 L159.00,354.90 L159.46,354.82 L159.91,354.72 L160.35,354.61 L160.78,354.49 L161.21,354.38 L161.64,354.29 L162.07,354.22 L162.50,354.20 L162.93,354.22 L163.36,354.29 L163.79,354.38 L164.22,354.49 L164.65,354.61 L165.09,354.72 L165.54,354.82 L166.00,354.90 L165.20,354.96 L162.61,355.01 L159.29,355.05 L156.34,355.09 L154.85,355.13 L155.91,355.16 L160.60,355.18 L170.00,355.20 L186.15,355.21 L208.88,355.22 L235.98,355.22 L265.25,355.22 L294.49,355.21 L321.50,355.21 L344.07,355.20 L360.00,355.20" stroke="#b22222" stroke-width="1.6"/>
<path d="M40.00,354.95 L49.00,354.95 L61.52,354.95 L76.49,354.95 L92.81,354.95 L109.41,354.95 L125.20,354.95 L139.09,354.95 L150.00,354.95 L158.13,354.95 L164.61,354.96 L169.72,354.97 L173.75,354.97 L177.00,354.98 L179.77,354.97 L182.33,354.97 L185.00,354.95 L187.48,354.93 L189.38,354.90 L190.80,354.87 L191.88,354.83 L192.71,354.79 L193.44,354.73 L194.16,354.67 L195.00,354.60 L195.87,354.52 L196.62,354.44 L197.29,354.36 L197.88,354.27 L198.42,354.16 L198.94,354.03 L199.46,353.88 L200.00,353.70 L200.55,353.50 L201.07,353.28 L201.57,353.05 L202.06,352.79 L202.54,352.51 L203.02,352.21 L203.51,351.87 L204.00,351.50 L204.50,351.10 L205.00,350.69 L205.50,350.24 L206.00,349.77 L206.50,349.26 L207.00,348.72 L207.50,348.13 L208.00,347.50 L208.50,346.82 L209.00,346.11 L209.50,345.36 L210.00,344.56 L210.50,343.73 L211.00,342.86 L211.50,341.95 L212.00,341.00 L212.50,340.01 L213.00,338.97 L213.50,337.90 L214.00,336.78 L214.50,335.63 L215.00,334.45 L215.50,333.24 L216.00,332.00 L216.50,330.73 L217.00,329.44 L217.50,328.11 L218.00,326.75 L218.50,325.36 L219.00,323.94 L219.50,322.48 L220.00,321.00 L220.50,319.50 L221.00,318.01 L221.50,316.49 L222.00,314.94 L222.50,313.33 L223.00,311.65 L223.50,309.88 L224.00,308.00 L224.51,305.99 L225.02,303.85 L225.54,301.62 L226.06,299.31 L226.57,296.97 L227.07,294.62 L227.55,292.28 L228.00,290.00 L228.42,287.74 L228.82,285.46 L229.20,283.18 L229.56,280.91 L229.92,278.64 L230.27,276.39 L230.63,274.18 L231.00,272.00 L231.38,269.81 L231.77,267.57 L232.17,265.33 L232.56,263.12 L232.95,261.00 L233.32,258.99 L233.67,257.15 L234.00,255.50 L234.30,254.06 L234.58,252.78 L234.85,251.64 L235.10,250.64 L235.34,249.74 L235.57,248.93 L235.79,248.19 L236.00,247.50 L236.20,246.88 L236.39,246.34 L236.56,245.88 L236.73,245.51 L236.89,245.22 L237.05,245.01 L237.22,244.87 L237.40,244.80 L237.59,244.79 L237.78,244.85 L237.97,244.97 L238.16,245.17 L238.36,245.46 L238.57,245.86 L238.78,246.37 L239.00,247.00 L239.23,247.75 L239.47,248.61 L239.72,249.57 L239.97,250.64 L240.23,251.81 L240.49,253.10 L240.75,254.49 L241.00,256.00 L241.25,257.67 L241.50,259.51 L241.75,261.49 L242.00,263.56 L242.25,265.69 L242.50,267.84 L242.75,269.95 L243.00,272.00 L243.25,274.00 L243.50,276.00 L243.75,278.00 L244.00,280.00 L244.25,282.00 L244.50,284.00 L244.75,286.00 L245.00,288.00 L245.24,290.00 L245.48,292.00 L245.71,294.00 L245.94,296.00 L246.18,298.00 L246.43,300.00 L246.70,302.00 L247.00,304.00 L247.33,306.03 L247.68,308.09 L248.05,310.18 L248.44,312.25 L248.83,314.29 L249.23,316.28 L249.62,318.19 L250.00,320.00 L250.38,321.71 L250.75,323.35 L251.12,324.92 L251.50,326.44 L251.88,327.90 L252.25,329.30 L252.62,330.67 L253.00,332.00 L253.37,333.28 L253.73,334.51 L254.08,335.68 L254.44,336.81 L254.80,337.90 L255.18,338.96 L255.58,339.99 L256.00,341.00 L256.44,341.99 L256.88,342.96 L257.34,343.90 L257.81,344.81 L258.31,345.68 L258.84,346.51 L259.40,347.28 L260.00,348.00 L260.65,348.66 L261.36,349.28 L262.10,349.84 L262.88,350.36 L263.66,350.84 L264.45,351.27 L265.24,351.65 L266.00,352.00 L266.74,352.29 L267.45,352.52 L268.16,352.69 L268.88,352.83 L269.60,352.94 L270.36,353.03 L271.15,353.11 L272.00,353.20 L272.82,353.28 L273.58,353.35 L274.33,353.39 L275.12,353.42 L276.03,353.45 L277.11,353.47 L278.41,353.48 L280.00,353.50 L281.65,353.51 L283.22,353.52 L284.86,353.52 L286.75,353.52 L289.04,353.51 L291.91,353.51 L295.50,353.50 L300.00,353.50 L306.00,353.50 L313.59,353.50 L322.21,353.50 L331.25,353.50 L340.14,353.50 L348.28,353.50 L355.10,353.50 L360.00,353.50" stroke="#000" stroke-width="1.6" stroke-dasharray="3 1.5"/>
<path d="M56.3,68.5 H72" stroke-width="1.2" stroke="#14a81e"/>
<path d="M56.3,78.4 H72" stroke-width="1.2" stroke="#0000ff"/>
<path d="M56.3,87.9 H72" stroke-width="1.2" stroke="#000" stroke-dasharray="1.6 1.7"/>
<path d="M56.3,97.4 H72" stroke-width="1.2" stroke="#b22222"/>
<path d="M56.3,251.2 H72" stroke-width="1.2" stroke="#0000ff"/>
<path d="M56.3,263.9 H72" stroke-width="1.2" stroke="#14a81e"/>
<path d="M56.3,276.6 H72" stroke-width="1.2" stroke="#b22222"/>
<path d="M56.3,289.5 H72" stroke-width="1.2" stroke="#000" stroke-dasharray="1.6 1.7"/>
</g>
<g fill="none" stroke="#7a7a7a" stroke-width="1.25"><rect x="40.0" y="40.0" width="320.0" height="319.5"/><path d="M40.0,232.0 H360.0"/></g>
<g font-family="'Liberation Serif', serif" fill="#000" stroke="#000" stroke-width="0.22">
<text x="24.09" y="44.40" font-size="11.8" textLength="10.33" lengthAdjust="spacingAndGlyphs">10</text><text x="34.62" y="39.40" font-size="7.2" textLength="3.78" lengthAdjust="spacingAndGlyphs">2</text>
<text x="18.33" y="71.20" font-size="11.8" textLength="10.33" lengthAdjust="spacingAndGlyphs">10</text><text x="28.86" y="66.20" font-size="7.2" textLength="9.54" lengthAdjust="spacingAndGlyphs">−3</text>
<text x="18.33" y="98.00" font-size="11.8" textLength="10.33" lengthAdjust="spacingAndGlyphs">10</text><text x="28.86" y="93.00" font-size="7.2" textLength="9.54" lengthAdjust="spacingAndGlyphs">−8</text>
<text x="14.55" y="124.80" font-size="11.8" textLength="10.33" lengthAdjust="spacingAndGlyphs">10</text><text x="25.08" y="119.80" font-size="7.2" textLength="13.32" lengthAdjust="spacingAndGlyphs">−13</text>
<text x="14.55" y="151.60" font-size="11.8" textLength="10.33" lengthAdjust="spacingAndGlyphs">10</text><text x="25.08" y="146.60" font-size="7.2" textLength="13.32" lengthAdjust="spacingAndGlyphs">−18</text>
<text x="14.55" y="178.40" font-size="11.8" textLength="10.33" lengthAdjust="spacingAndGlyphs">10</text><text x="25.08" y="173.40" font-size="7.2" textLength="13.32" lengthAdjust="spacingAndGlyphs">−23</text>
<text x="14.55" y="205.20" font-size="11.8" textLength="10.33" lengthAdjust="spacingAndGlyphs">10</text><text x="25.08" y="200.20" font-size="7.2" textLength="13.32" lengthAdjust="spacingAndGlyphs">−28</text>
<text x="14.55" y="232.00" font-size="11.8" textLength="10.33" lengthAdjust="spacingAndGlyphs">10</text><text x="25.08" y="227.00" font-size="7.2" textLength="13.32" lengthAdjust="spacingAndGlyphs">−33</text>
<text x="38.1" y="337.2" text-anchor="end" font-size="11.8" textLength="5.31" lengthAdjust="spacingAndGlyphs">5</text>
<text x="38.1" y="310.5" text-anchor="end" font-size="11.8" textLength="10.62" lengthAdjust="spacingAndGlyphs">10</text>
<text x="38.1" y="283.9" text-anchor="end" font-size="11.8" textLength="10.62" lengthAdjust="spacingAndGlyphs">15</text>
<text x="38.1" y="257.2" text-anchor="end" font-size="11.8" textLength="10.62" lengthAdjust="spacingAndGlyphs">20</text>
<text x="33.05" y="370.20" font-size="11.8" textLength="10.33" lengthAdjust="spacingAndGlyphs">10</text><text x="43.57" y="365.20" font-size="7.2" textLength="3.78" lengthAdjust="spacingAndGlyphs">0</text>
<text x="68.60" y="370.20" font-size="11.8" textLength="10.33" lengthAdjust="spacingAndGlyphs">10</text><text x="79.13" y="365.20" font-size="7.2" textLength="3.78" lengthAdjust="spacingAndGlyphs">1</text>
<text x="104.16" y="370.20" font-size="11.8" textLength="10.33" lengthAdjust="spacingAndGlyphs">10</text><text x="114.68" y="365.20" font-size="7.2" textLength="3.78" lengthAdjust="spacingAndGlyphs">2</text>
<text x="139.71" y="370.20" font-size="11.8" textLength="10.33" lengthAdjust="spacingAndGlyphs">10</text><text x="150.24" y="365.20" font-size="7.2" textLength="3.78" lengthAdjust="spacingAndGlyphs">3</text>
<text x="175.27" y="370.20" font-size="11.8" textLength="10.33" lengthAdjust="spacingAndGlyphs">10</text><text x="185.79" y="365.20" font-size="7.2" textLength="3.78" lengthAdjust="spacingAndGlyphs">4</text>
<text x="210.83" y="370.20" font-size="11.8" textLength="10.33" lengthAdjust="spacingAndGlyphs">10</text><text x="221.35" y="365.20" font-size="7.2" textLength="3.78" lengthAdjust="spacingAndGlyphs">5</text>
<text x="246.38" y="370.20" font-size="11.8" textLength="10.33" lengthAdjust="spacingAndGlyphs">10</text><text x="256.91" y="365.20" font-size="7.2" textLength="3.78" lengthAdjust="spacingAndGlyphs">6</text>
<text x="281.94" y="370.20" font-size="11.8" textLength="10.33" lengthAdjust="spacingAndGlyphs">10</text><text x="292.46" y="365.20" font-size="7.2" textLength="3.78" lengthAdjust="spacingAndGlyphs">7</text>
<text x="317.49" y="370.20" font-size="11.8" textLength="10.33" lengthAdjust="spacingAndGlyphs">10</text><text x="328.02" y="365.20" font-size="7.2" textLength="3.78" lengthAdjust="spacingAndGlyphs">8</text>
<text x="353.05" y="370.20" font-size="11.8" textLength="10.33" lengthAdjust="spacingAndGlyphs">10</text><text x="363.57" y="365.20" font-size="7.2" textLength="3.78" lengthAdjust="spacingAndGlyphs">9</text>
<text x="177" y="383" font-size="13.3" textLength="45.5" lengthAdjust="spacingAndGlyphs"><tspan font-style="italic">T</tspan> (GeV)</text>
<g transform="translate(12.9,161) rotate(-90)"><text x="-1.2" y="0" font-size="14" font-style="italic" stroke-width="0.05" textLength="10.4" lengthAdjust="spacingAndGlyphs">Γ</text><text x="8.8" y="-5.6" font-size="8.3" font-style="italic">E</text><text x="17.6" y="0" font-size="13.4" textLength="32.2" lengthAdjust="spacing">(GeV)</text></g>
<text transform="translate(25.9,310.9) rotate(-90)" font-size="13.6" textLength="29.2" lengthAdjust="spacing">Ratio</text>
<text x="80" y="72.0" font-size="11" fill="#14a81e" stroke="#14a81e" stroke-width="0.18" textLength="52.5" lengthAdjust="spacingAndGlyphs">MB analytic</text>
<text x="80" y="81.5" font-size="11" fill="#0000ff" stroke="#0000ff" stroke-width="0.18" textLength="58.5" lengthAdjust="spacingAndGlyphs">MB corrected</text>
<text x="80" y="91.0" font-size="11" fill="#000" stroke="#000" stroke-width="0.18" textLength="61.5" lengthAdjust="spacingAndGlyphs">MB numerical</text>
<text x="80" y="100.5" font-size="11" fill="#b22222" stroke="#b22222" stroke-width="0.18" opacity="0.88" textLength="75.0" lengthAdjust="spacingAndGlyphs">BE/FD numerical</text>
<text x="80.3" y="253.7" font-size="11" fill="#0000ff" stroke="#0000ff" stroke-width="0.18" textLength="136.0" lengthAdjust="spacingAndGlyphs">BE/FD numerical/MB corrected</text>
<text x="80.3" y="266.5" font-size="11" fill="#14a81e" stroke="#14a81e" stroke-width="0.18" textLength="130.0" lengthAdjust="spacingAndGlyphs">BE/FD numerical/MB analytic</text>
<text x="80.3" y="279.4" font-size="11" fill="#b22222" stroke="#b22222" stroke-width="0.18" opacity="0.88" textLength="117.0" lengthAdjust="spacingAndGlyphs">MB numerical/MB analytic</text>
<text x="80.3" y="292.2" font-size="11" fill="#000" stroke="#000" stroke-width="0.18" textLength="139.2" lengthAdjust="spacingAndGlyphs">BE/FD numerical/MB numerical</text>
</g>
</svg>
</div>
</body></html>
